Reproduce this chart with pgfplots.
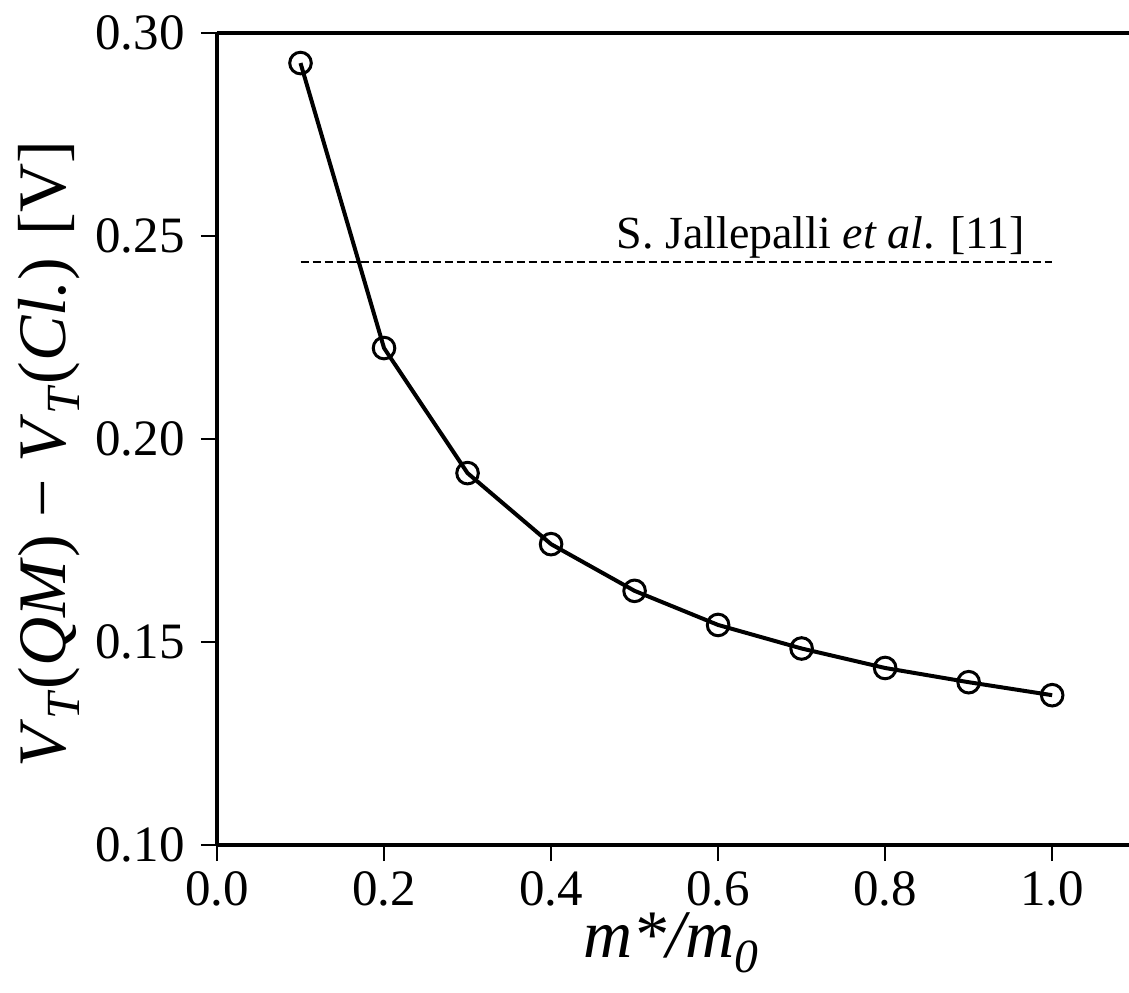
\documentclass[border=0pt]{standalone}
\usepackage{fontspec}
\setmainfont{Liberation Serif}
\usepackage{pgfplots}
\pgfplotsset{compat=1.18}
\begin{document}
\begin{tikzpicture}
\begin{axis}[
  name=ax,
  scale only axis,
  width=456pt, height=406pt,
  xmin=0, xmax=1.092, ymin=0.10, ymax=0.30,
  axis x line*=box, axis y line*=left,
  axis line style={line width=1.6pt},
  tick pos=left,
  tick align=outside,
  major tick length=8pt,
  every tick/.style={line width=1pt, black},
  xtick={0,0.2,0.4,0.6,0.8,1.0},
  ytick={0.10,0.15,0.20,0.25,0.30},
  scaled y ticks=false, scaled x ticks=false,
  xticklabel style={/pgf/number format/fixed, /pgf/number format/precision=1, /pgf/number format/fixed zerofill, inner sep=0pt, yshift=-5pt},
  yticklabel style={/pgf/number format/fixed, /pgf/number format/precision=2, /pgf/number format/fixed zerofill, inner sep=0pt, xshift=-8pt},
  /pgf/number format/assume math mode=true,
  tick label style={font=\fontsize{25.5}{30}\selectfont},
  xlabel={\textit{m*/m\textsubscript{0}}},
  ylabel={\textit{V}\textsubscript{\textit{T}}(\textit{QM}) − \textit{V}\textsubscript{\textit{T}}(\textit{Cl.}) [V]},
  every axis x label/.style={at={(axis description cs:0.498,-0.139)}, anchor=base, inner sep=0pt, text height=0.68em, text depth=0.25em, font=\fontsize{34}{40}\selectfont},
  every axis y label/.style={at={(axis description cs:-0.1656,0.4815)}, anchor=base, rotate=90, inner sep=0pt, font=\fontsize{34}{40}\selectfont},
  clip=false,
]
\addplot[black, line width=2pt, mark=o, mark size=5.4pt,
  mark options={line width=1.5pt, fill=white, solid}]
  coordinates {
  (0.1,0.2926) (0.2,0.2224) (0.3,0.1916) (0.4,0.1741) (0.5,0.1626)
  (0.6,0.1542) (0.7,0.1484) (0.8,0.1436) (0.9,0.1401) (1.0,0.1369)
  };
\addplot[black, line width=1pt, dash pattern=on 4pt off 2pt]
  coordinates {(0.1,0.2436) (1.0,0.2436)};
\node[anchor=base east, font=\fontsize{23}{28}\selectfont, inner sep=0pt]
  at (axis cs:0.968,0.247) {S. Jallepalli \textit{et al}. [11]};
\end{axis}
\pgfresetboundingbox
\path[use as bounding box] ([xshift=-108.5pt,yshift=-73.5pt]ax.south west) rectangle ([yshift=16.5pt]ax.north east);
\end{tikzpicture}
\end{document}
